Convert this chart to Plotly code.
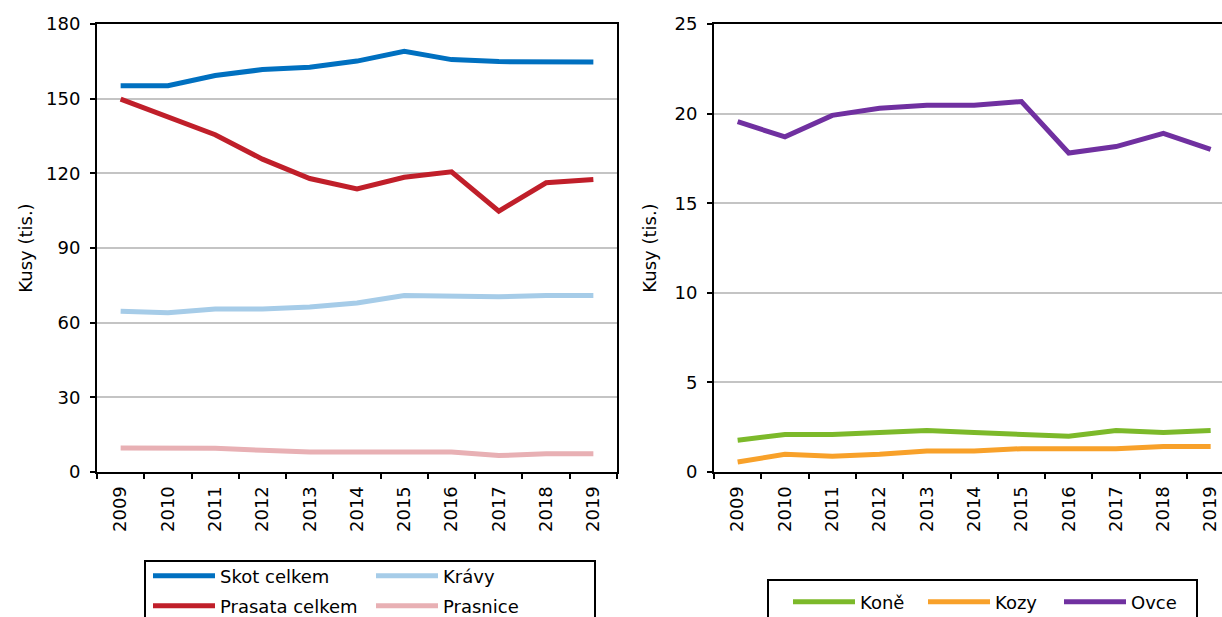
import plotly.graph_objects as go

years = ["2009", "2010", "2011", "2012", "2013", "2014", "2015", "2016", "2017", "2018", "2019"]

# Left panel (tis. kusů)
skot_celkem = [155.2, 155.2, 159.3, 161.7, 162.6, 165.1, 169.0, 165.7, 164.9, 164.9, 164.7]
prasata_celkem = [149.8, 142.6, 135.5, 125.7, 117.9, 113.7, 118.4, 120.6, 104.8, 116.2, 117.5]
kravy = [64.6, 64.0, 65.5, 65.5, 66.3, 67.9, 70.9, 70.4, 70.4, 70.9, 70.9]
prasnice = [9.6, 9.6, 9.5, 8.7, 8.0, 8.0, 8.0, 8.0, 6.6, 7.3, 7.3]

# Right panel (tis. kusů)
kone = [1.77, 2.09, 2.09, 2.18, 2.31, 2.20, 2.09, 1.99, 2.31, 2.20, 2.31]
kozy = [0.56, 0.99, 0.88, 0.99, 1.17, 1.17, 1.30, 1.30, 1.30, 1.42, 1.42]
ovce = [19.55, 18.7, 19.9, 20.3, 20.47, 20.47, 20.67, 17.8, 18.16, 18.9, 18.0]

y_title = "Kusy (tis.)"
FONT = "DejaVu Sans, Liberation Sans, Arial, sans-serif"
FS = 18
W, H = 1222, 617


def px(x):
    return x / W


def py(y):
    return 1 - y / H


fig = go.Figure()

left_series = [
    ("Skot celkem", skot_celkem, "#0070C0", "legend"),
    ("Krávy", kravy, "#A6CCE8", "legend2"),
    ("Prasata celkem", prasata_celkem, "#C01F2A", "legend3"),
    ("Prasnice", prasnice, "#E8B0B4", "legend4"),
]
right_series = [
    ("Koně", kone, "#7CB92A", "legend5"),
    ("Kozy", kozy, "#F8A12A", "legend6"),
    ("Ovce", ovce, "#7030A0", "legend7"),
]

for name, vals, col, leg in left_series:
    fig.add_trace(go.Scatter(x=years, y=vals, name=name, mode="lines",
                             line=dict(color=col, width=5), legend=leg,
                             showlegend=True, xaxis="x", yaxis="y"))
for name, vals, col, leg in right_series:
    fig.add_trace(go.Scatter(x=years, y=vals, name=name, mode="lines",
                             line=dict(color=col, width=5), legend=leg,
                             showlegend=True, xaxis="x2", yaxis="y2"))

axis_font = dict(family=FONT, size=FS, color="#000000")

common_x = dict(type="category", showline=True, linecolor="#000000", linewidth=2,
                mirror=True, ticks="outside", tickson="boundaries", ticklen=5,
                tickwidth=2, tickcolor="#000000", tickangle=-90, showgrid=False,
                zeroline=False, tickfont=axis_font, automargin=False,
                ticklabelstandoff=5)
common_y = dict(showline=True, linecolor="#000000", linewidth=2,
                ticks="outside", ticklen=5, tickwidth=2, tickcolor="#000000",
                showgrid=True, gridcolor="#C4C4C4", gridwidth=2, zeroline=False,
                tickfont=axis_font, automargin=False, ticklabelstandoff=6)

legend_base = dict(font=dict(family=FONT, size=FS, color="#000000"),
                   bgcolor="rgba(0,0,0,0)", borderwidth=0, itemwidth=62,
                   xanchor="left", yanchor="middle", orientation="v")

layout = dict(
    width=W, height=H,
    margin=dict(l=0, r=0, t=0, b=0, autoexpand=False),
    paper_bgcolor="#FFFFFF", plot_bgcolor="#FFFFFF",
    font=dict(family=FONT, size=FS, color="#000000"),
    template="none",
    showlegend=True,
    xaxis=dict(common_x, domain=[px(97), px(617)], range=[-0.5, 10.5], anchor="y"),
    yaxis=dict(common_y, domain=[py(472), py(24)], range=[0, 180], dtick=30,
               mirror=True, anchor="x",
               title=dict(text=y_title, font=axis_font, standoff=9)),
    xaxis2=dict(common_x, domain=[px(714), 1.0], range=[-0.5, 10.24], anchor="y2"),
    yaxis2=dict(common_y, domain=[py(472), py(24)], range=[0, 25], dtick=5,
                anchor="x2",
                title=dict(text=y_title, font=axis_font, standoff=13)),
)

# individual legends positioned like the reference entries
legend_pos = {
    "legend": (148, 576),
    "legend2": (371, 576),
    "legend3": (148, 606),
    "legend4": (371, 606),
    "legend5": (788, 602),
    "legend6": (923, 602),
    "legend7": (1059, 602),
}
for key, (lx, ly) in legend_pos.items():
    layout[key] = dict(legend_base, x=px(lx), y=py(ly))

fig.update_layout(**layout)

# legend frames
fig.add_shape(type="rect", xref="paper", yref="paper",
              x0=px(145), x1=px(595), y0=py(640), y1=py(561),
              line=dict(color="#000000", width=2), fillcolor="rgba(0,0,0,0)", layer="below")
fig.add_shape(type="rect", xref="paper", yref="paper",
              x0=px(768), x1=px(1197), y0=py(640), y1=py(580),
              line=dict(color="#000000", width=2), fillcolor="rgba(0,0,0,0)", layer="below")

fig.write_html("out.html",
               config={"displayModeBar": False},
               post_script="document.body.style.margin='0';document.body.style.overflow='hidden';")
